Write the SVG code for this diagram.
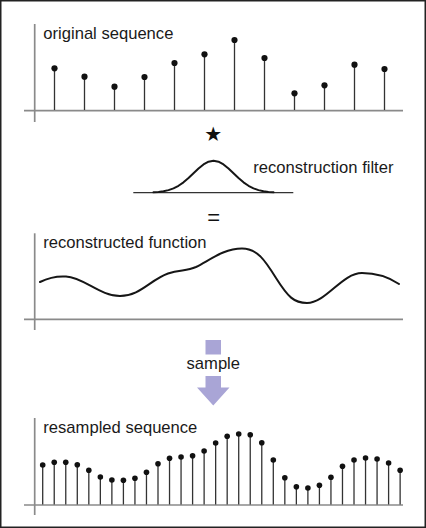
<svg xmlns="http://www.w3.org/2000/svg" width="426" height="528" viewBox="0 0 426 528">
<style>
.lbl{font-family:"Liberation Sans",Arial,sans-serif;font-size:16.6px;fill:#1a1a1a}
.axis{stroke:#8a8a8a;stroke-width:1.7;fill:none}
.stem{stroke:#333;stroke-width:1.3}
.dot{fill:#111}
.curve{stroke:#161616;stroke-width:2;fill:none;stroke-linejoin:round;stroke-linecap:round}
</style>
<rect x="0.75" y="0.75" width="424.5" height="526.5" fill="#fff" stroke="#222" stroke-width="1.5"/>

<g id="original-sequence">
<line class="axis" x1="34.7" y1="24" x2="34.7" y2="122"/>
<line class="axis" x1="24" y1="110.7" x2="403" y2="110.7"/>
<text class="lbl" x="43.3" y="38.5">original sequence</text>
<g class="stem">
<line x1="54.5" y1="110" x2="54.5" y2="68.3"/>
<line x1="84.5" y1="110" x2="84.5" y2="76.7"/>
<line x1="114.5" y1="110" x2="114.5" y2="86.7"/>
<line x1="144.5" y1="110" x2="144.5" y2="77"/>
<line x1="174.5" y1="110" x2="174.5" y2="63"/>
<line x1="204.5" y1="110" x2="204.5" y2="54.3"/>
<line x1="234.5" y1="110" x2="234.5" y2="40"/>
<line x1="264.5" y1="110" x2="264.5" y2="58"/>
<line x1="294.5" y1="110" x2="294.5" y2="93.3"/>
<line x1="324.5" y1="110" x2="324.5" y2="85.3"/>
<line x1="354.5" y1="110" x2="354.5" y2="64.7"/>
<line x1="384.5" y1="110" x2="384.5" y2="69"/>
</g>
<g class="dot">
<circle cx="54.5" cy="68.3" r="3.1"/>
<circle cx="84.5" cy="76.7" r="3.1"/>
<circle cx="114.5" cy="86.7" r="3.1"/>
<circle cx="144.5" cy="77" r="3.1"/>
<circle cx="174.5" cy="63" r="3.1"/>
<circle cx="204.5" cy="54.3" r="3.1"/>
<circle cx="234.5" cy="40" r="3.1"/>
<circle cx="264.5" cy="58" r="3.1"/>
<circle cx="294.5" cy="93.3" r="3.1"/>
<circle cx="324.5" cy="85.3" r="3.1"/>
<circle cx="354.5" cy="64.7" r="3.1"/>
<circle cx="384.5" cy="69" r="3.1"/>
</g>
</g>

<g id="convolve-operator">
<text x="213.3" y="141" text-anchor="middle" style="font-family:'DejaVu Sans',sans-serif;font-size:20px;fill:#111">★</text>
</g>

<g id="reconstruction-filter">
<line x1="133.3" y1="192.7" x2="293.3" y2="192.7" stroke="#333" stroke-width="1.2"/>
<polyline class="curve" points="153.5,192.34 158.5,191.97 163.5,191.29 168.5,190.15 173.5,188.37 178.5,185.78 183.5,182.31 188.5,178.05 193.5,173.29 198.5,168.55 203.5,164.46 208.5,161.69 213.5,160.7 218.5,161.69 223.5,164.46 228.5,168.55 233.5,173.29 238.5,178.05 243.5,182.31 248.5,185.78 253.5,188.37 258.5,190.15 263.5,191.29 268.5,191.97 273.5,192.34"/>
<text class="lbl" x="253.3" y="173.3">reconstruction filter</text>
</g>

<g id="equals-operator">
<text x="213.7" y="225" text-anchor="middle" style="font-family:'Liberation Sans',Arial,sans-serif;font-size:22px;fill:#111">=</text>
</g>

<g id="reconstructed-function">
<line class="axis" x1="34.7" y1="233.3" x2="34.7" y2="330"/>
<line class="axis" x1="24" y1="319.3" x2="403" y2="319.3"/>
<text class="lbl" x="43.3" y="248.3">reconstructed function</text>
<path class="curve" d="M40,282 C50,277 58,276 66,276.5 C84,277.5 100,296 120,296 C140,296 150,280 168,273.5 C180,269.2 186,271.5 196,267 C210,260 224,248.5 242,248.5 C258,248.5 266,262 276,278 C288,297 294,303 307,303 C326,303 342,273 362,273 C378,273 390,278 399,284"/>
</g>

<g id="sample-arrow" fill="#a9a5d6">
<rect x="205.5" y="340" width="15.5" height="14.5"/>
<text class="lbl" x="213.3" y="369" text-anchor="middle">sample</text>
<path d="M205.5,376 H221 V387.5 H229.5 L213.25,405.5 L197,387.5 H205.5 Z"/>
</g>

<g id="resampled-sequence">
<line class="axis" x1="34.7" y1="418" x2="34.7" y2="515"/>
<line class="axis" x1="24" y1="505" x2="403" y2="505"/>
<text class="lbl" x="43.3" y="432.7">resampled sequence</text>
<g class="stem">
<line x1="42.7" y1="504.5" x2="42.7" y2="465"/>
<line x1="54.23" y1="504.5" x2="54.23" y2="462.3"/>
<line x1="65.76" y1="504.5" x2="65.76" y2="462.3"/>
<line x1="77.29" y1="504.5" x2="77.29" y2="464.7"/>
<line x1="88.82" y1="504.5" x2="88.82" y2="470.3"/>
<line x1="100.35" y1="504.5" x2="100.35" y2="477"/>
<line x1="111.88" y1="504.5" x2="111.88" y2="480"/>
<line x1="123.41" y1="504.5" x2="123.41" y2="480.3"/>
<line x1="134.94" y1="504.5" x2="134.94" y2="478.3"/>
<line x1="146.47" y1="504.5" x2="146.47" y2="472.3"/>
<line x1="158" y1="504.5" x2="158" y2="463.7"/>
<line x1="169.53" y1="504.5" x2="169.53" y2="458.3"/>
<line x1="181.06" y1="504.5" x2="181.06" y2="457"/>
<line x1="192.59" y1="504.5" x2="192.59" y2="455.7"/>
<line x1="204.12" y1="504.5" x2="204.12" y2="451"/>
<line x1="215.65" y1="504.5" x2="215.65" y2="443"/>
<line x1="227.18" y1="504.5" x2="227.18" y2="436.3"/>
<line x1="238.71" y1="504.5" x2="238.71" y2="434"/>
<line x1="250.24" y1="504.5" x2="250.24" y2="434.7"/>
<line x1="261.77" y1="504.5" x2="261.77" y2="442.7"/>
<line x1="273.3" y1="504.5" x2="273.3" y2="460"/>
<line x1="284.83" y1="504.5" x2="284.83" y2="477.7"/>
<line x1="296.36" y1="504.5" x2="296.36" y2="486.7"/>
<line x1="307.89" y1="504.5" x2="307.89" y2="488"/>
<line x1="319.42" y1="504.5" x2="319.42" y2="485.3"/>
<line x1="330.95" y1="504.5" x2="330.95" y2="477.3"/>
<line x1="342.48" y1="504.5" x2="342.48" y2="466.3"/>
<line x1="354.01" y1="504.5" x2="354.01" y2="460"/>
<line x1="365.54" y1="504.5" x2="365.54" y2="458"/>
<line x1="377.07" y1="504.5" x2="377.07" y2="459"/>
<line x1="388.6" y1="504.5" x2="388.6" y2="463"/>
<line x1="400.13" y1="504.5" x2="400.13" y2="470.3"/>
</g>
<g class="dot">
<circle cx="42.7" cy="465" r="2.8"/>
<circle cx="54.23" cy="462.3" r="2.8"/>
<circle cx="65.76" cy="462.3" r="2.8"/>
<circle cx="77.29" cy="464.7" r="2.8"/>
<circle cx="88.82" cy="470.3" r="2.8"/>
<circle cx="100.35" cy="477" r="2.8"/>
<circle cx="111.88" cy="480" r="2.8"/>
<circle cx="123.41" cy="480.3" r="2.8"/>
<circle cx="134.94" cy="478.3" r="2.8"/>
<circle cx="146.47" cy="472.3" r="2.8"/>
<circle cx="158" cy="463.7" r="2.8"/>
<circle cx="169.53" cy="458.3" r="2.8"/>
<circle cx="181.06" cy="457" r="2.8"/>
<circle cx="192.59" cy="455.7" r="2.8"/>
<circle cx="204.12" cy="451" r="2.8"/>
<circle cx="215.65" cy="443" r="2.8"/>
<circle cx="227.18" cy="436.3" r="2.8"/>
<circle cx="238.71" cy="434" r="2.8"/>
<circle cx="250.24" cy="434.7" r="2.8"/>
<circle cx="261.77" cy="442.7" r="2.8"/>
<circle cx="273.3" cy="460" r="2.8"/>
<circle cx="284.83" cy="477.7" r="2.8"/>
<circle cx="296.36" cy="486.7" r="2.8"/>
<circle cx="307.89" cy="488" r="2.8"/>
<circle cx="319.42" cy="485.3" r="2.8"/>
<circle cx="330.95" cy="477.3" r="2.8"/>
<circle cx="342.48" cy="466.3" r="2.8"/>
<circle cx="354.01" cy="460" r="2.8"/>
<circle cx="365.54" cy="458" r="2.8"/>
<circle cx="377.07" cy="459" r="2.8"/>
<circle cx="388.6" cy="463" r="2.8"/>
<circle cx="400.13" cy="470.3" r="2.8"/>
</g>
</g>
</svg>
